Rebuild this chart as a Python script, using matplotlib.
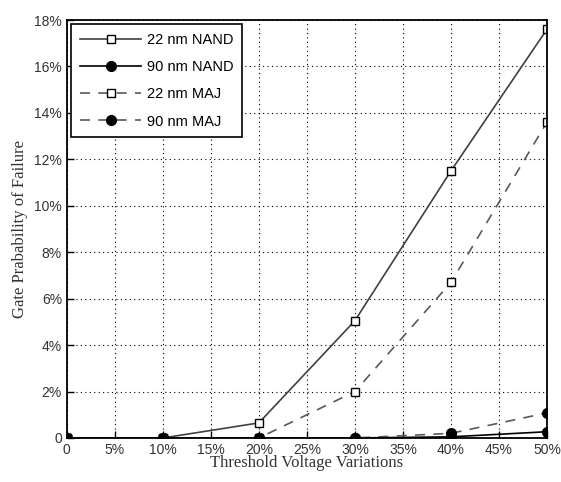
import matplotlib.pyplot as plt
from matplotlib.ticker import FuncFormatter

# Données (en %)
variation = [0, 10, 20, 30, 40, 50]
nand_22 = [0, 0, 0.65, 5.05, 11.5, 17.6]
nand_90 = [0, 0, 0, 0, 0.05, 0.27]
maj_22 = [0, 0, 0, 2.0, 6.7, 13.6]
maj_90 = [0, 0, 0, 0, 0.2, 1.08]

x_ticks = list(range(0, 55, 5))
y_ticks = list(range(0, 20, 2))

sans = ['Liberation Sans Narrow', 'Liberation Sans', 'DejaVu Sans']
serif = ['Liberation Serif', 'DejaVu Serif']

fig = plt.figure(figsize=(5.61, 4.82), dpi=100)
ax = fig.add_axes([0.119, 0.0913, 0.856, 0.8672])

ax.plot(variation, nand_22, color='0.25', lw=1.2, ls='-', marker='s',
        ms=6, mfc='white', mec='black', mew=1.0, label='22 nm NAND')
ax.plot(variation, nand_90, color='black', lw=1.2, ls='-', marker='o',
        ms=7, mfc='black', mec='black', label='90 nm NAND')
ax.plot(variation, maj_22, color='0.35', lw=1.2, ls=(0, (6, 5)), marker='s',
        ms=6, mfc='white', mec='black', mew=1.0, label='22 nm MAJ')
ax.plot(variation, maj_90, color='0.35', lw=1.2, ls=(0, (6, 5)), marker='o',
        ms=7, mfc='black', mec='black', label='90 nm MAJ')

ax.set_xlim(0, 50)
ax.set_ylim(0, 18)
ax.set_xticks(x_ticks)
ax.set_yticks(y_ticks)
fmt = FuncFormatter(lambda v, p: '0' if v == 0 else f'{v:.0f}%')
ax.xaxis.set_major_formatter(fmt)
ax.yaxis.set_major_formatter(fmt)
ax.tick_params(direction='in', length=5, width=1, labelsize=10, colors='black')
for lbl in ax.get_xticklabels() + ax.get_yticklabels():
    lbl.set_family(sans)
    lbl.set_color('#333333')

ax.grid(True, color='black', ls=(0, (1, 3)), lw=0.8)
for s in ax.spines.values():
    s.set_linewidth(1.3)

ax.set_xlabel('Threshold Voltage Variations', family=serif, fontsize=12, color='#333333', labelpad=-1)
ax.set_ylabel('Gate Prabability of Failure', family=serif, fontsize=12, color='#333333', labelpad=4)

leg = ax.legend(loc='upper left', bbox_to_anchor=(0.0, 1.0), fancybox=False,
                edgecolor='black', framealpha=1, handlelength=4.2, handletextpad=0.4,
                prop={'family': sans, 'size': 10.5}, borderpad=0.6, labelspacing=0.9,
                borderaxespad=0.3)
leg.get_frame().set_linewidth(1.2)

fig.savefig('out.png', dpi=100)
